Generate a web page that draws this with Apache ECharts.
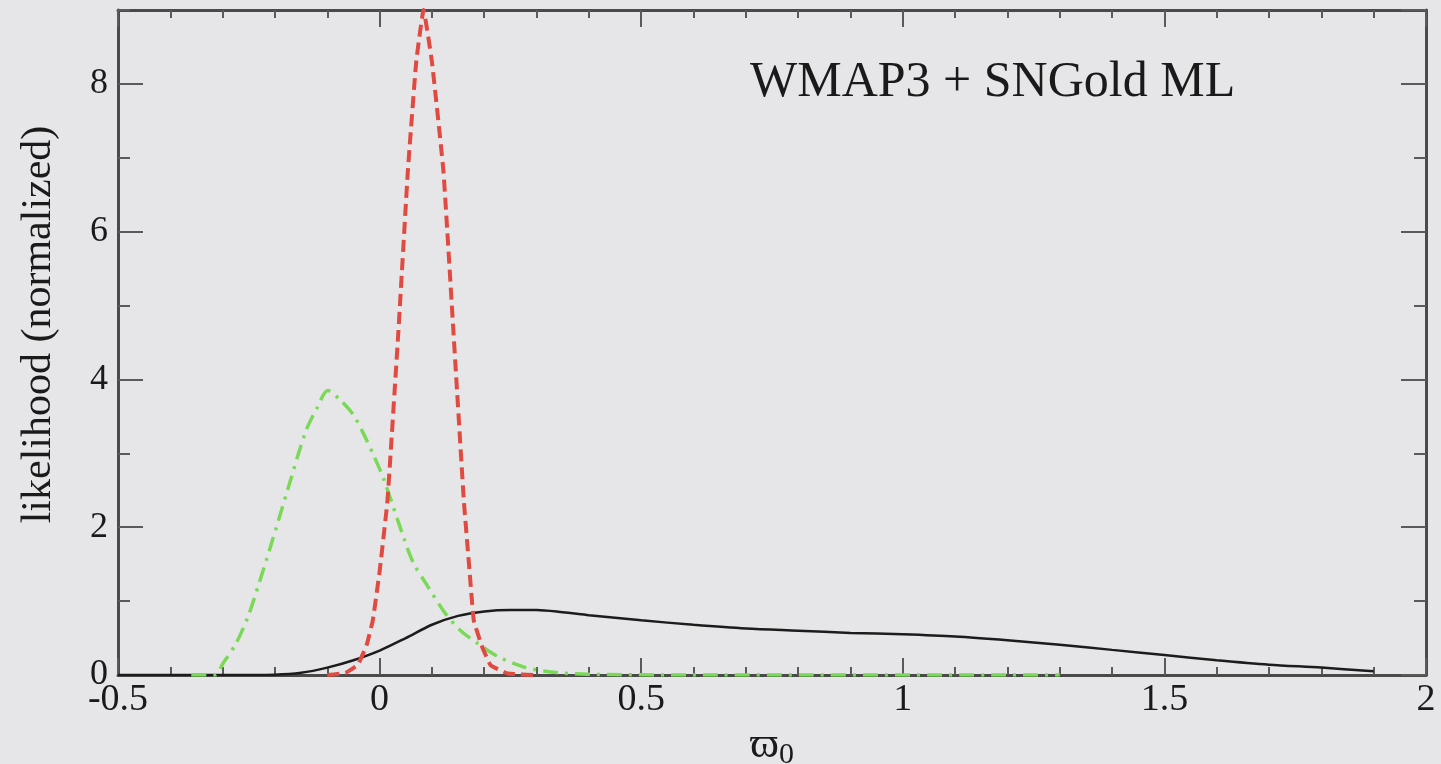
<!DOCTYPE html>
<html>
<head>
<meta charset="utf-8">
<script src="https://cdn.jsdelivr.net/npm/echarts@6/dist/echarts.min.js"></script>
<style>
html, body { margin: 0; padding: 0; background: #e6e6e9; }
#chart { width: 1441px; height: 764px; }
</style>
</head>
<body>
<div id="chart"></div>
<script>
// ticks
let xTicks = [-0.5, 0, 0.5, 1, 1.5, 2];
let yTicks = [0, 2, 4, 6, 8];
let yMax = 9;

// solid black curve
let blackCurve = [
  [-0.5, 0], [-0.3, 0], [-0.2, 0.005], [-0.15, 0.03], [-0.1, 0.1], [-0.05, 0.2],
  [0, 0.33], [0.05, 0.5], [0.1, 0.68], [0.15, 0.8], [0.2, 0.86], [0.25, 0.88],
  [0.3, 0.88], [0.35, 0.85], [0.4, 0.81], [0.5, 0.74], [0.6, 0.68], [0.7, 0.63],
  [0.8, 0.6], [0.9, 0.57], [1.0, 0.55], [1.1, 0.52], [1.2, 0.47], [1.3, 0.41],
  [1.4, 0.34], [1.5, 0.27], [1.6, 0.2], [1.7, 0.14], [1.8, 0.1], [1.9, 0.05]
];

// green dash-dot curve
let greenCurve = [
  [-0.36, 0], [-0.315, 0], [-0.3, 0.15], [-0.275, 0.42], [-0.252, 0.78], [-0.23, 1.25],
  [-0.208, 1.75], [-0.176, 2.5], [-0.141, 3.3], [-0.119, 3.62], [-0.099, 3.85],
  [-0.075, 3.72], [-0.05, 3.52], [-0.031, 3.27], [-0.01, 2.95], [0.008, 2.65],
  [0.046, 1.86], [0.065, 1.51], [0.092, 1.2], [0.125, 0.84], [0.155, 0.6],
  [0.187, 0.43], [0.226, 0.25], [0.275, 0.11], [0.327, 0.04], [0.4, 0.01],
  [0.6, 0], [1.3, 0]
];

// red dashed curve
let redCurve = [
  [-0.1, 0], [-0.065, 0.03], [-0.042, 0.135], [-0.025, 0.4], [-0.013, 0.74],
  [0.0, 1.4], [0.015, 2.36], [0.036, 4.66], [0.054, 6.82], [0.07, 8.3],
  [0.084, 9.0], [0.1, 8.3], [0.122, 6.82], [0.141, 4.66], [0.161, 2.36],
  [0.172, 1.4], [0.180, 0.74], [0.195, 0.4], [0.212, 0.135], [0.245, 0.02], [0.3, 0]
];

let serif = '"Liberation Serif", "DejaVu Serif", serif';
let ink = '#1a1a1a';
let frame = { show: true, onZero: false, lineStyle: { color: '#4a4a4a', width: 3 } };
let tickStyle = { color: '#5a5a5a', width: 2 };

function xAxis(pos) {
  let bottom = pos === 'bottom';
  return {
    type: 'value',
    position: pos,
    min: xTicks[0],
    max: xTicks[xTicks.length - 1],
    interval: xTicks[1] - xTicks[0],
    axisLine: frame,
    axisTick: { inside: true, length: 17, lineStyle: tickStyle },
    minorTick: { show: true, splitNumber: 5, length: 8, lineStyle: tickStyle },
    splitLine: { show: false },
    axisLabel: {
      show: bottom,
      margin: 6,
      color: ink,
      fontFamily: serif,
      fontSize: 38
    },
    name: bottom ? '{w|ϖ}{s|0}' : '',
    nameLocation: 'middle',
    nameGap: 44,
    nameTextStyle: {
      rich: {
        w: { fontFamily: serif, fontSize: 44, color: ink },
        s: { fontFamily: serif, fontSize: 30, color: ink, padding: [18, 0, 0, 0] }
      }
    }
  };
}

function yAxis(pos, step, len, withLine, withLabel) {
  return {
    type: 'value',
    position: pos,
    min: yTicks[0],
    max: yMax,
    interval: step,
    axisLine: withLine ? frame : { show: false, onZero: false },
    axisTick: { show: true, inside: true, length: len, lineStyle: tickStyle },
    splitLine: { show: false },
    axisLabel: {
      show: withLabel,
      showMaxLabel: false,
      margin: 10,
      color: ink,
      fontFamily: serif,
      fontSize: 36
    },
    name: withLabel ? 'likelihood (normalized)' : '',
    nameLocation: 'middle',
    nameGap: 58,
    nameTextStyle: { fontFamily: serif, fontSize: 42, color: ink, padding: [0, 0, 0, 36] }
  };
}

let option = {
  backgroundColor: '#e6e6e9',
  animation: false,
  grid: { left: 118, right: 15, top: 10, bottom: 89, outerBoundsMode: 'none' },
  title: {
    text: 'WMAP3 + SNGold ML',
    left: 750,
    top: 58,
    padding: 0,
    textStyle: { fontFamily: serif, fontWeight: 'normal', fontSize: 50, color: ink }
  },
  xAxis: [xAxis('bottom'), xAxis('top')],
  yAxis: [
    yAxis('left', yTicks[1] - yTicks[0], 25, true, true),
    yAxis('left', 1, 12, false, false),
    yAxis('right', yTicks[1] - yTicks[0], 25, true, false),
    yAxis('right', 1, 12, false, false)
  ],
  series: [
    {
      name: 'black',
      type: 'line',
      data: blackCurve,
      showSymbol: false,
      smooth: 0.3,
      lineStyle: { color: '#1c1c1c', width: 2.5 }
    },
    {
      name: 'green',
      type: 'line',
      data: greenCurve,
      showSymbol: false,
      smooth: 0.3,
      lineStyle: { color: '#7ad957', width: 3.5, type: [15, 7, 3, 7] }
    },
    {
      name: 'red',
      type: 'line',
      data: redCurve,
      showSymbol: false,
      smooth: 0.1,
      lineStyle: { color: '#e04a40', width: 4, type: [12, 6] }
    }
  ]
};

let chart = echarts.init(document.getElementById('chart'));
chart.setOption(option);
</script>
</body>
</html>
